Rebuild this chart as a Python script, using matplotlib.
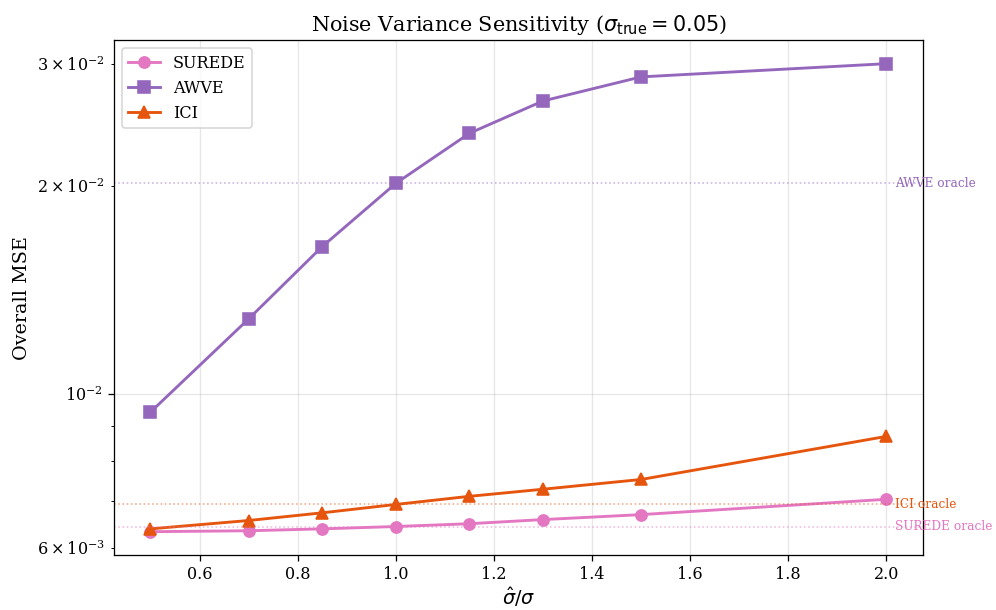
import numpy as np
import matplotlib
matplotlib.use("Agg")
import matplotlib.pyplot as plt

plt.rcParams['font.family'] = 'serif'
plt.rcParams['font.serif'] = ['DejaVu Serif']

ratio = [0.5, 0.7, 0.85, 1.0, 1.15, 1.3, 1.5, 2.0]
surede = [0.00633, 0.00635, 0.00639, 0.00644, 0.00650, 0.00659, 0.00670, 0.00705]
awve = [0.00942, 0.01284, 0.01633, 0.02015, 0.02380, 0.02650, 0.02871, 0.0300]
ici = [0.00639, 0.00657, 0.00674, 0.00693, 0.00712, 0.00729, 0.00753, 0.00869]

oracle = {'SUREDE': 0.00644, 'AWVE': 0.02015, 'ICI': 0.00693}
colors = {'SUREDE': '#e377c2', 'AWVE': '#9467bd', 'ICI': '#e6550d'}
markers = {'SUREDE': 'o', 'AWVE': 's', 'ICI': '^'}
series = {'SUREDE': surede, 'AWVE': awve, 'ICI': ici}

dpi = 115
fig, ax = plt.subplots(figsize=(997 / dpi, 610 / dpi), dpi=dpi)

for name, vals in series.items():
    ax.plot(ratio, vals, marker=markers[name], color=colors[name],
            linewidth=1.8, markersize=7, label=name)

ax.set_yscale('log')

for name, val in oracle.items():
    ax.axhline(val, color=colors[name], linestyle=':', linewidth=1, alpha=0.5)
    ax.text(2.017, val, name + ' oracle', color=colors[name], fontsize=7.6,
            va='center', ha='left', clip_on=False)

ax.set_xlabel(r'$\hat{\sigma}/\sigma$', fontsize=12, labelpad=1)
ax.set_ylabel('Overall MSE', fontsize=12)
ax.set_title(r'Noise Variance Sensitivity ($\sigma_{\mathrm{true}} = 0.05$)', fontsize=13)
ax.grid(True, alpha=0.3)
ax.legend(loc='upper left', fontsize=10)

fig.subplots_adjust(left=0.114, right=0.926, top=0.934, bottom=0.09)
fig.savefig('out.png', dpi=dpi)
